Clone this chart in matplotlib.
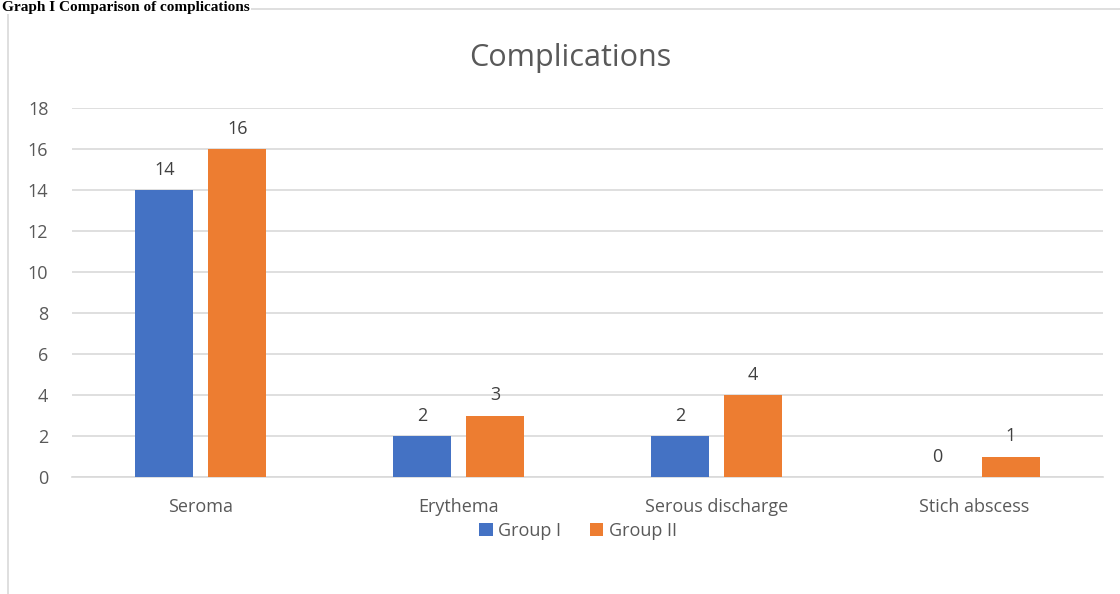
import numpy as np
import matplotlib.pyplot as plt
from matplotlib.patches import Rectangle

categories = ['Seroma', 'Erythema', 'Serous discharge', 'Stich abscess']
group1 = [14, 2, 2, 0]
group2 = [16, 3, 4, 1]
series_names = ['Group I', 'Group II']
yticks = [0, 2, 4, 6, 8, 10, 12, 14, 16, 18]

blue = '#4472C4'
orange = '#ED7D31'
txt = '#595959'
grid = '#D9D9D9'

plt.rcParams['font.family'] = ['Open Sans', 'DejaVu Sans']

fig = plt.figure(figsize=(11.2, 5.94), dpi=100)
ax = fig.add_axes([72/1120, 1-477/594, (1103-72)/1120, (477-108)/594])

x = np.arange(len(categories))
w = 0.225
off = 0.1416
b1 = ax.bar(x - off, group1, w, color=blue, label=series_names[0], zorder=3)
b2 = ax.bar(x + off, group2, w, color=orange, label=series_names[1], zorder=3)

for bars in (b1, b2):
    ax.bar_label(bars, padding=8, fontsize=13, color='#404040')

ax.set_xlim(-0.5, len(categories) - 0.5)
ax.set_ylim(0, 18)
ax.set_yticks(yticks)
ax.set_xticks(x)
ax.set_xticklabels(categories)
ax.tick_params(axis='both', length=0, labelsize=13, colors=txt)
ax.tick_params(axis='x', pad=15)
ax.tick_params(axis='y', pad=17)
ax.grid(axis='y', color=grid, linewidth=1.2, zorder=0)
for s in ['top', 'right', 'left']:
    ax.spines[s].set_visible(False)
ax.spines['bottom'].set_color(grid)
ax.spines['bottom'].set_linewidth(1.2)

fig.text(570/1120, 1-58/594, 'Complications', ha='center', va='center',
         fontsize=22, color=txt)

fig.legend(loc='center', bbox_to_anchor=(578/1120, 1-531/594), ncol=2,
           frameon=False, fontsize=13, labelcolor=txt, handlelength=0.75,
           handleheight=0.75, handletextpad=0.3, columnspacing=1.6)

# chart frame
fig.patches.append(Rectangle((8/1120, -0.1), 1.2, 1 - 9/594 + 0.1,
                             transform=fig.transFigure, fill=False,
                             edgecolor=grid, linewidth=1.2))

# caption above the chart
fig.text(0.002, 0.999, 'Graph I Comparison of complications', ha='left',
         va='top', fontsize=11, fontweight='bold',
         family=['Liberation Serif', 'DejaVu Serif'], color='black',
         bbox=dict(facecolor='white', edgecolor='none', pad=0.5), zorder=5)

fig.savefig('out.png', dpi=100)
